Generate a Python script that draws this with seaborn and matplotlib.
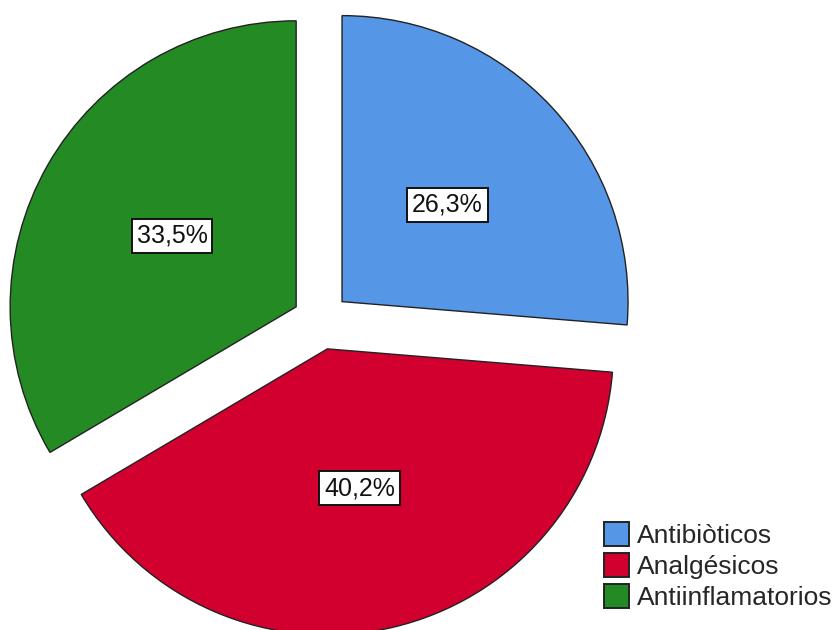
import seaborn as sns
import matplotlib
matplotlib.use("Agg")
from matplotlib import pyplot as plt
from matplotlib.patches import Patch

categories = ["Antibiòticos", "Analgésicos", "Antiinflamatorios"]
percentages = [26.3, 40.2, 33.5]
colors = ["#5596E6", "#D2002F", "#248A24"]

sns.set_theme(style="white")
plt.rcParams['font.family'] = ['Liberation Sans', 'DejaVu Sans']

fig = plt.figure(figsize=(8.37, 6.3), dpi=100)
# place the pie so radius 1 = ~286 px, centred at (321, 321) px
L = 1.15
r_px = 286
w = 2 * L * r_px / 837
h = 2 * L * r_px / 630
cx, cy = 321 / 837, 1 - 321 / 630
ax = fig.add_axes([cx - w / 2, cy - h / 2, w, h])

def fmt(pct):
    return f"{pct:.1f}%".replace(".", ",")

wedges, texts, autotexts = ax.pie(
    percentages, colors=colors, startangle=90, counterclock=False,
    explode=[0.1, 0.1, 0.1], autopct=fmt, pctdistance=0.5,
    wedgeprops=dict(edgecolor="#222222", linewidth=1),
    textprops=dict(fontsize=18, color="#111111"))
for t in autotexts:
    t.set_bbox(dict(boxstyle="square,pad=0.2", facecolor="white", edgecolor="#111111", linewidth=1.4))

ax.set_xlim(-L, L)
ax.set_ylim(-L, L)
ax.set_aspect("equal")
ax.axis("off")

handles = [Patch(facecolor=c, edgecolor="#222222", linewidth=1.4) for c in colors]
fig.legend(handles, categories, loc="lower left", bbox_to_anchor=(604 / 837, 20 / 630),
           frameon=False, fontsize=19, handlelength=0.95, handleheight=0.98,
           handletextpad=0.3, labelspacing=0.2, borderaxespad=0, borderpad=0)

fig.savefig("out.png", dpi=100)
